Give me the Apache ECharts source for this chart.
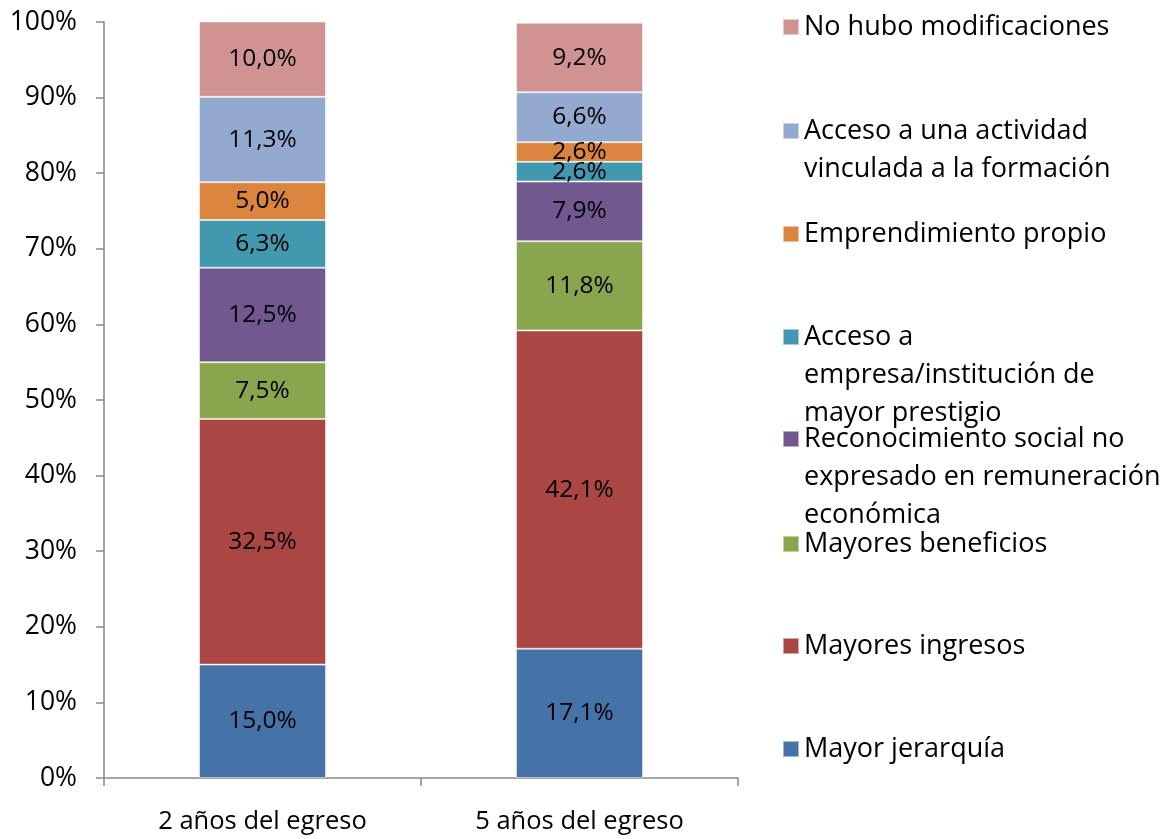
<!DOCTYPE html>
<html>
<head>
<meta charset="utf-8">
<script src="https://cdn.jsdelivr.net/npm/echarts@6/dist/echarts.min.js"></script>
<style>
html,body{margin:0;padding:0;background:#fff;}
#chart{width:1170px;height:839px;}
</style>
</head>
<body>
<div id="chart"></div>
<script>
const categories = ['2 años del egreso', '5 años del egreso'];
const seriesNames = [
  'Mayor jerarquía',
  'Mayores ingresos',
  'Mayores beneficios',
  'Reconocimiento social no expresado en remuneración económica',
  'Acceso a empresa/institución de mayor prestigio',
  'Emprendimiento propio',
  'Acceso a una actividad vinculada a la formación',
  'No hubo modificaciones'
];
const legendLabels = [
  ['Mayor jerarquía'],
  ['Mayores ingresos'],
  ['Mayores beneficios'],
  ['Reconocimiento social no', 'expresado en remuneración', 'económica'],
  ['Acceso a', 'empresa/institución de', 'mayor prestigio'],
  ['Emprendimiento propio'],
  ['Acceso a una actividad', 'vinculada a la formación'],
  ['No hubo modificaciones']
];
const mayorJerarquia = [15.0, 17.1];
const mayoresIngresos = [32.5, 42.1];
const mayoresBeneficios = [7.5, 11.8];
const reconocimientoSocial = [12.5, 7.9];
const accesoEmpresa = [6.3, 2.6];
const emprendimiento = [5.0, 2.6];
const accesoActividad = [11.3, 6.6];
const noHuboModificaciones = [10.0, 9.2];
const seriesValues = [mayorJerarquia, mayoresIngresos, mayoresBeneficios, reconocimientoSocial,
  accesoEmpresa, emprendimiento, accesoActividad, noHuboModificaciones];
const colors = ['#4572A7', '#AA4643', '#89A54E', '#71588F', '#4198AF', '#DB843D', '#93A9CF', '#D19392'];
const yTicks = [0, 10, 20, 30, 40, 50, 60, 70, 80, 90, 100];

const FONT = '"Open Sans", "Noto Sans", sans-serif';
const LH = 38;
const legendCenters = [749, 646, 544, 439, 337, 234, 131, 27];

const chart = echarts.init(document.getElementById('chart'), null, {renderer: 'canvas'});

const legends = seriesNames.map((name, i) => {
  const lines = legendLabels[i];
  const n = lines.length;
  const total = (2 * n - 1) * LH;
  return {
    data: [name],
    left: 782,
    top: legendCenters[i] - total / 2,
    orient: 'vertical',
    itemWidth: 16,
    itemHeight: 16,
    itemGap: 0,
    padding: 0,
    icon: 'rect',
    selectedMode: false,
    formatter: function () {
      const pre = [];
      for (let k = 0; k < n - 1; k++) pre.push('');
      return pre.concat(lines).join('\n');
    },
    textStyle: {fontFamily: FONT, fontSize: 27, color: '#000', lineHeight: LH}
  };
});

const option = {
  backgroundColor: '#fff',
  animation: false,
  color: colors,
  grid: {left: 104, right: 432, top: 22, bottom: 61, containLabel: false},
  legend: legends,
  xAxis: {
    type: 'category',
    data: categories,
    axisLine: {lineStyle: {color: '#888', width: 1.5}},
    axisTick: {show: true, length: 8, lineStyle: {color: '#888', width: 1.5}},
    axisLabel: {fontFamily: FONT, fontSize: 25.5, color: '#000', margin: 31}
  },
  yAxis: {
    type: 'value',
    min: 0,
    max: 100,
    interval: 10,
    axisLine: {show: true, lineStyle: {color: '#888', width: 1.5}},
    axisTick: {show: true, length: 8, lineStyle: {color: '#888', width: 1.5}},
    splitLine: {show: false},
    axisLabel: {
      fontFamily: FONT, fontSize: 26.5, color: '#000', margin: 27,
      formatter: v => (yTicks.indexOf(v) >= 0 ? v + '%' : '')
    }
  },
  series: seriesNames.map((name, i) => ({
    name: name,
    type: 'bar',
    stack: 'total',
    barWidth: 127,
    data: seriesValues[i],
    itemStyle: {color: colors[i], borderColor: 'rgba(255,255,255,0.5)', borderWidth: 1},
    label: {
      show: true,
      position: 'inside',
      fontFamily: FONT,
      fontSize: 24.5,
      color: '#000',
      formatter: p => p.value.toFixed(1).replace('.', ',') + '%'
    }
  }))
};
chart.setOption(option);
</script>
</body>
</html>
